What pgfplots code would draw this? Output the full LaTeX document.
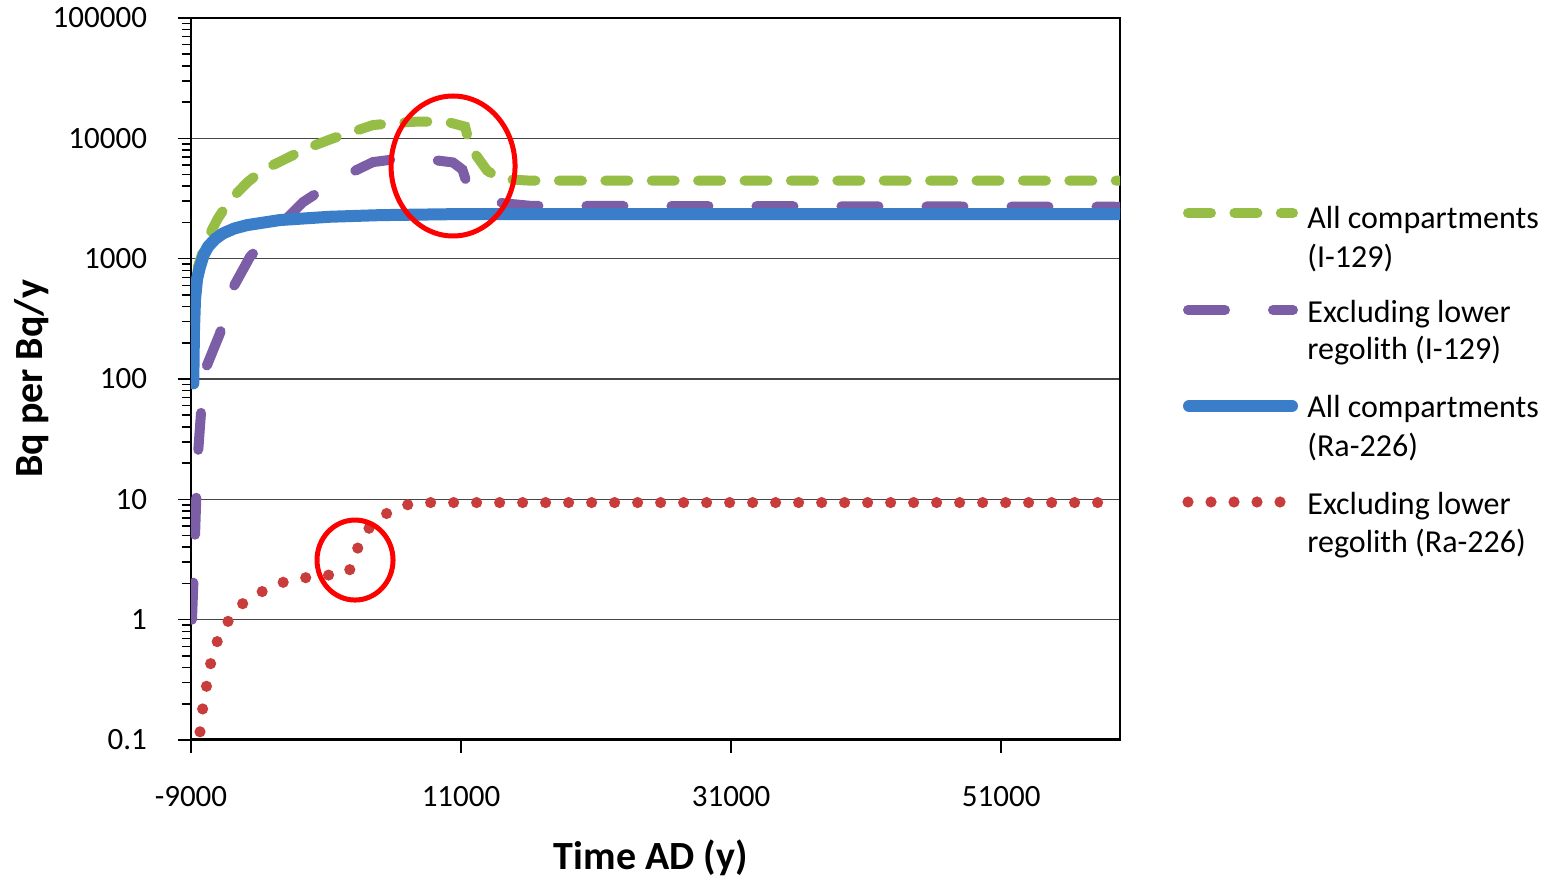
\documentclass[border=0pt]{standalone}
\usepackage{fontspec}
\setmainfont{Carlito}
\usepackage{pgfplots}
\pgfplotsset{compat=1.18}

\definecolor{cgreen}{RGB}{150,190,70}
\definecolor{cpurple}{RGB}{123,94,165}
\definecolor{cblue}{RGB}{58,125,200}
\definecolor{cred}{RGB}{200,60,60}
\definecolor{gridc}{RGB}{70,70,70}

\tikzset{
  sgreen/.style={color=cgreen, line width=5bp, line cap=round, dash pattern=on 11.5bp off 11.7bp},
  spurple/.style={color=cpurple, line width=5bp, line cap=round, dash pattern=on 18.5bp off 24bp},
  sblue/.style={color=cblue, line width=6bp, line cap=round},
  sred/.style={color=cred, line width=5.6bp, line cap=round, dash pattern=on 0bp off 11.5bp},
}

\begin{document}
\begin{tikzpicture}
\path[use as bounding box] (-95.5bp,-69bp) rectangle (680.5bp,370bp);
\begin{axis}[
    scale only axis,
    width=464.5bp, height=361bp,
    ymode=log,
    xmin=-9000, xmax=59800,
    ymin=0.1, ymax=100000,
    scaled x ticks=false,
    xtick={-9000,11000,31000,51000},
    xticklabels={-9000,11000,31000,51000},
    ytick={0.1,1,10,100,1000,10000,100000},
    yticklabels={0.1,1,10,100,1000,10000,100000},
    tick pos=left,
    tick align=outside,
    major tick length=6.5bp,
    minor tick length=4.5bp,
    yminorticks=true,
    ymajorgrids=true,
    grid style={gridc, line width=0.75bp},
    axis line style={line width=1bp},
    tick style={black, line width=0.8bp},
    tick label style={font=\fontsize{15.5bp}{18bp}\selectfont},
    xticklabel style={yshift=-13bp},
    yticklabel style={xshift=-12bp},
    /pgf/number format/assume math mode=true,
    xlabel={\textbf{Time AD (y)}},
    ylabel={\textbf{Bq per Bq/y}},
    xlabel style={at={(axis description cs:0.495,-0.18)}, anchor=base, font=\fontsize{20bp}{24bp}\selectfont},
    ylabel style={at={(axis description cs:-0.16,0.5)}, anchor=base, rotate=0, font=\fontsize{20bp}{24bp}\selectfont},
]
% All compartments (I-129)
\addplot[sgreen] coordinates {
(-8850,300) (-8480,860) (-7837,1429) (-7000,2170) (-6111,3070) (-4778,4360)
(-3667,5460) (-1667,7040) (-430,8260) (1519,10000) (4481,12900) (7222,13700)
(8185,13800) (10185,13500) (11300,12500) (11667,8500) (12926,5400) (13889,4600)
(16111,4450) (59800,4450)
};
% Excluding lower regolith (I-129)
\addplot[spurple] coordinates {
(-8926,1.0) (-8800,2.4) (-8700,5) (-8600,11) (-8480,24) (-8250,54) (-8050,112)
(-6852,240) (-6111,517) (-4630,1035) (-2630,1795) (-704,2950) (2037,4680)
(4481,6350) (7444,7000) (8500,6700) (10407,6300) (11100,5500) (11667,3500)
(14111,2890) (16111,2750) (59800,2700)
};
% All compartments (Ra-226)
\addplot[sblue] coordinates {
(-8830,92) (-8780,250) (-8704,453) (-8550,680) (-8333,857) (-8050,1080)
(-7741,1256) (-7200,1460) (-6630,1622) (-5800,1780) (-4852,1900) (-2407,2094)
(1296,2230) (5000,2300) (10000,2340) (59800,2350)
};
% Excluding lower regolith (Ra-226)
\addplot[sred] coordinates {
(-8333,0.117) (-8133,0.183) (-7837,0.286) (-7519,0.448) (-7022,0.678)
(-6185,1.0) (-5096,1.39) (-3741,1.71) (-2210,2.04) (-533,2.23) (1244,2.35)
(2704,2.5) (3274,3.79) (4037,5.56) (5348,7.5) (6852,8.97) (8607,9.4) (59800,9.4)
};
\draw[red, line width=2.5bp] (axis cs:10407,5890) ellipse [x radius=31bp, y radius=35bp];
\draw[red, line width=2.5bp] (axis cs:3148,3.13) ellipse [x radius=19bp, y radius=20bp];
\draw[black, line width=1.8bp] (rel axis cs:0,0) -- (rel axis cs:1,0);
\end{axis}
% legend
\draw[sgreen] (498.5bp,263.5bp) -- (551bp,263.5bp);
\draw[spurple] (498.5bp,215bp) -- (551bp,215bp);
\draw[sblue] (499bp,167bp) -- (550.5bp,167bp);
\draw[sred] (498.5bp,119bp) -- (545bp,119bp);
\begin{scope}[every node/.style={anchor=base west, inner sep=0pt, font=\fontsize{16bp}{19bp}\selectfont}]
\node at (558bp,255.5bp) {All compartments};
\node at (558bp,236bp) {(I-129)};
\node at (558bp,208.5bp) {Excluding lower};
\node at (558bp,190bp) {regolith (I-129)};
\node at (558bp,161bp) {All compartments};
\node at (558bp,141.5bp) {(Ra-226)};
\node at (558bp,112.5bp) {Excluding lower};
\node at (558bp,93.5bp) {regolith (Ra-226)};
\end{scope}
\end{tikzpicture}
\end{document}
